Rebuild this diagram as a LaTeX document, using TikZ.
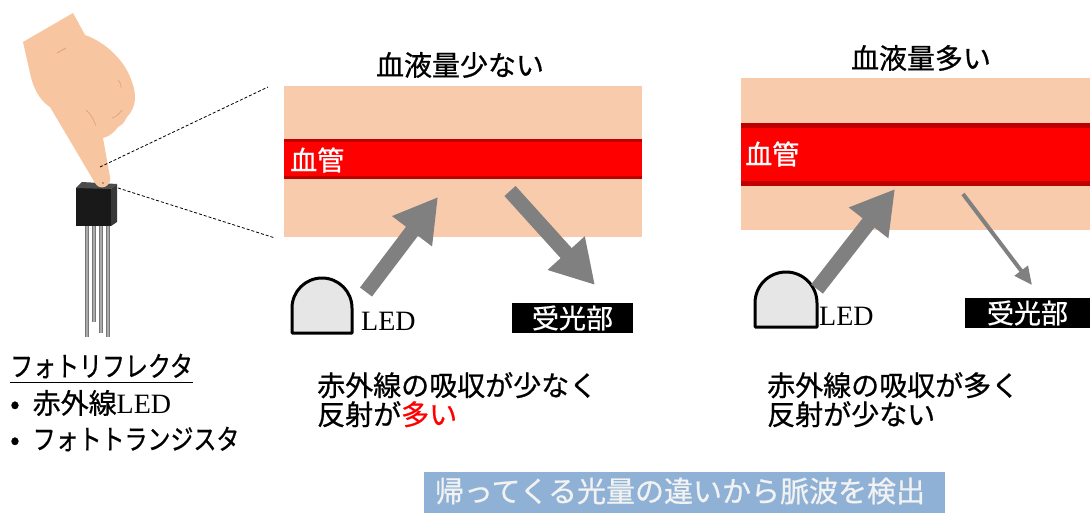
\documentclass[tikz,border=0pt]{standalone}
\usepackage{fontspec}
\setmainfont{Liberation Serif}
\newfontfamily\jp[FakeBold=0.7]{Noto Sans CJK JP}
\newfontfamily\jpui[FakeBold=0.7,FakeStretch=0.82]{Noto Sans CJK JP}
\usetikzlibrary{arrows.meta}
\definecolor{skin}{RGB}{248,203,173}
\definecolor{hand}{RGB}{247,198,160}
\definecolor{handline}{RGB}{226,165,130}
\definecolor{vessel}{RGB}{255,0,0}
\definecolor{vesselrim}{RGB}{190,0,0}
\definecolor{ray}{RGB}{128,128,128}
\definecolor{ledgray}{RGB}{230,230,230}
\definecolor{pingray}{RGB}{170,170,170}
\definecolor{note}{RGB}{142,177,213}
\tikzset{>=latex}

\begin{document}
\begin{tikzpicture}[x=1pt,y=-1pt,
    lbl/.style={inner sep=0pt,font=\jp\fontsize{28}{29}\selectfont},
    fatray/.style={draw=ray,line width=15pt,-{Triangle[length=43pt,width=47pt]}},
    thinray/.style={draw=ray,line width=4pt,-{Triangle[length=18pt,width=16pt]}},
    led/.style={fill=ledgray,draw=black,line width=3pt,line join=round},
    rx/.style={fill=black,text=white,inner sep=0pt,minimum height=30pt,
               font=\jp\fontsize{27}{28}\selectfont}]
    \useasboundingbox (0,0) rectangle (1090,513);

    \foreach \x/\y in {87/337,94/322,101/333,108/337} {
        \draw[pingray!70!black,line width=3.4pt] (\x,224) -- (\x,\y);
        \draw[pingray,line width=1.6pt] (\x,224) -- (\x,\y);
    }
    \fill[black!90] (76,188) rectangle (111,226);
    \fill[black!78] (111,189) -- (117,184) -- (117,222) -- (111,226) -- cycle;
    \fill[black!70] (76,188) -- (82,182) -- (117,184) -- (111,189) -- cycle;

    \fill[hand] (23,42) -- (73,13) .. controls (78,22) .. (85,35)
        .. controls (105,42) and (125,60) .. (132,82)
        .. controls (137,95) and (136,108) .. (127,117)
        .. controls (123,124) .. (118,127)
        .. controls (114,133) and (108,137) .. (103,138) -- (110,177)
        .. controls (112,186) and (100,192) .. (95,183) -- (50,107)
        .. controls (42,102) and (34,92) .. (30,73) -- cycle;
    \draw[handline,line width=1pt] (57,53) -- (66,48);
    \draw[handline,line width=0.8pt] (86,110) .. controls (92,116) .. (96,126);
    \draw[handline,line width=0.8pt] (112,118) .. controls (117,116) .. (122,110);
    \draw[handline,line width=0.8pt] (118,80) .. controls (121,84) .. (121,88);
    \fill[black!60] (103,183) circle (0.8);

    \coordinate (f1) at (100,167);
    \coordinate (f2) at (118,188);
    \coordinate (z1) at (268,87);
    \coordinate (z2) at (275,238);
    \draw[densely dashed,line width=0.8pt] (f1) -- (z1);
    \draw[densely dashed,line width=0.8pt] (f2) -- (z2);

    \node[lbl,anchor=west] (pr) at (10,366) {\jpui フォトリフレクタ};
    \draw[line width=1.5pt] ([yshift=-4pt]pr.south west) -- ([yshift=-4pt]pr.south east);
    \node[lbl,anchor=west] (b1) at (10,403) {•\hspace{13pt}赤外線{\rmfamily LED}};
    \node[lbl,anchor=west] (b2) at (10,439) {•\hspace{13pt}{\jpui フォトトランジスタ}};

    \fill[skin] (284,86) rectangle (642,237);
    \fill[vessel] (284,139) rectangle (642,179);
    \draw[vesselrim,line width=3pt] (284,140.5) -- (642,140.5) (284,177.5) -- (642,177.5);
    \node[lbl] (t1) at (460,65) {血液量少ない};
    \node[lbl,anchor=west,text=white,font=\jp\fontsize{27}{28}\selectfont] (v1) at (290,160) {血管};
    \draw[led] (292,333) -- (292,308) arc (180:360:30) -- (352,333) -- cycle;
    \node[inner sep=0pt,anchor=west,font=\fontsize{28}{29}\selectfont] (led1) at (361,321) {LED};
    \node[rx,minimum width=121pt] (rx1) at (572.5,318) {受光部};
    \coordinate (a1) at (366,292);
    \coordinate (a2) at (438,197);
    \coordinate (a3) at (510,191);
    \coordinate (a4) at (595,285);
    \draw[fatray] (a1) -- (a2);
    \draw[fatray] (a3) -- (a4);
    \node[lbl,anchor=north west,align=left] (c1) at (317,372)
        {赤外線の吸収が少なく\\反射が{\color{red}多い}};

    \fill[skin] (741,78) rectangle (1090,230);
    \fill[vessel] (741,123) rectangle (1090,186);
    \draw[vesselrim,line width=5pt] (741,125.5) -- (1090,125.5) (741,183.5) -- (1090,183.5);
    \node[lbl] (t2) at (921,58) {血液量多い};
    \node[lbl,anchor=west,text=white,font=\jp\fontsize{27}{28}\selectfont] (v2) at (745,154) {血管};
    \draw[led] (755,327) -- (755,303) arc (180:360:31) -- (817,327) -- cycle;
    \node[inner sep=0pt,anchor=west,font=\fontsize{28}{29}\selectfont] (led2) at (819,316) {LED};
    \node[rx,minimum width=125pt] (rx2) at (1027.5,313) {受光部};
    \coordinate (b3) at (817,289);
    \coordinate (b4) at (895,189);
    \coordinate (b5) at (963,194);
    \coordinate (b6) at (1032,285);
    \draw[fatray] (b3) -- (b4);
    \draw[thinray] (b5) -- (b6);
    \node[lbl,anchor=north west,align=left] (c2) at (767,372)
        {赤外線の吸収が多く\\反射が少ない};

    \fill[note] (424,472) rectangle (945,513);
    \node[lbl,text=black!5,font=\jp\fontsize{29}{30}\selectfont] (res) at (680,491)
        {帰ってくる光量の違いから脈波を検出};
\end{tikzpicture}
\end{document}
